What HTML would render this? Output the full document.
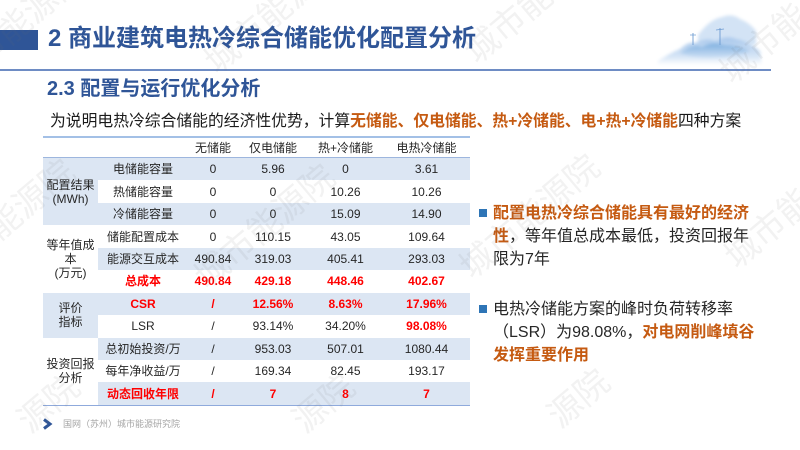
<!DOCTYPE html>
<html>
<head>
<meta charset="utf-8">
<style>
  html, body { margin:0; padding:0; width:800px; height:450px; overflow:hidden; background:#ffffff; }
  #page { width:800px; height:450px; position:relative; overflow:hidden; background:#ffffff;
         font-family:"Liberation Sans","Noto Sans CJK SC",sans-serif; color:#262626; }
  .abs { position:absolute; white-space:nowrap; }
  #bar { left:0; top:30px; width:38px; height:20px; background:#2F5597; }
  #title { left:48px; top:27px; font-size:24px; line-height:24px; font-weight:bold; color:#2F5597; }
  #hline { left:0; top:69px; width:771px; height:2px; background:#6E8CC4; }
  #sub { left:47px; top:79px; font-size:20px; line-height:20px; font-weight:bold; color:#2F5597; }
  #intro { left:50px; top:114px; font-size:15.8px; line-height:16px; color:#1a1a1a; }
  #intro b { color:#C55A11; }
  table { position:absolute; left:43px; top:136px; width:427px; border-collapse:separate; border-spacing:0;
          table-layout:fixed; font-size:12px; line-height:14px; }
  td { padding:0; text-align:center; vertical-align:middle; white-space:nowrap; }
  tr.h td { height:19px; border-top:2px solid #A3C0E6; border-bottom:1px solid #9DB6DE; }
  tr.r td { height:22.45px; }
  .s { background:#DCE6F3; }
  .red { color:#FF0000; font-weight:bold; }
  tr.last td { border-bottom:1.5px solid #8FAADC; }
  .bul { width:8px; height:8px; background:#2E75B6; }
  .bt { font-size:16px; line-height:23px; color:#262626; }
  .bt b { color:#C55A11; }
  #foot { left:63px; top:418px; font-size:9px; line-height:12px; color:#A6A6A6; }
</style>
</head>
<body>
<div id="page">

<!-- mountain illustration -->
<svg class="abs" style="left:650px;top:5px" width="120" height="65" viewBox="0 0 120 65">
  <defs>
    <filter id="bl" x="-20%" y="-20%" width="140%" height="140%"><feGaussianBlur stdDeviation="1.6"/></filter>
    <linearGradient id="g1" x1="0" y1="0" x2="0" y2="1">
      <stop offset="0" stop-color="#A9C8EC"/>
      <stop offset="0.7" stop-color="#D6E5F6"/>
      <stop offset="1" stop-color="#ffffff"/>
    </linearGradient>
    <linearGradient id="g2" x1="0" y1="0" x2="0" y2="1">
      <stop offset="0" stop-color="#7FB0E0"/>
      <stop offset="1" stop-color="#C9DDF3"/>
    </linearGradient>
  </defs>
  <path d="M48,30 Q60,14 72,12 Q82,8 90,14 Q100,18 106,26 L106,40 L48,40 Z" fill="#D3E3F5" filter="url(#bl)"/>
  <path d="M8,56 Q20,48 30,44 Q38,36 46,38 Q56,32 66,36 Q76,30 86,34 Q98,36 110,46 L112,60 L8,60 Z" fill="url(#g1)" filter="url(#bl)"/>
  <path d="M30,48 Q42,38 52,42 Q62,36 74,40 Q88,40 100,46 Q80,52 60,52 Q44,52 30,48 Z" fill="url(#g2)" filter="url(#bl)"/>
  <line x1="43" y1="28" x2="43" y2="40" stroke="#6C9BD2" stroke-width="0.9"/>
  <line x1="40" y1="30" x2="46" y2="30" stroke="#6C9BD2" stroke-width="0.7"/>
  <line x1="70" y1="23" x2="70" y2="40" stroke="#6C9BD2" stroke-width="0.9"/>
  <line x1="66" y1="25" x2="74" y2="24" stroke="#6C9BD2" stroke-width="0.7"/>
</svg>

<div id="bar" class="abs"></div>
<div id="title" class="abs">2 商业建筑电热冷综合储能优化配置分析</div>
<div id="hline" class="abs"></div>
<div id="sub" class="abs">2.3 配置与运行优化分析</div>
<div id="intro" class="abs">为说明电热冷综合储能的经济性优势，计算<b>无储能、仅电储能、热+冷储能、电+热+冷储能</b>四种方案</div>

<table>
  <colgroup>
    <col style="width:55px"><col style="width:90px"><col style="width:50px"><col style="width:70px"><col style="width:75px"><col style="width:87px">
  </colgroup>
  <tr class="h"><td></td><td></td><td>无储能</td><td>仅电储能</td><td>热+冷储能</td><td>电热冷储能</td></tr>
  <tr class="r s"><td rowspan="3" class="s">配置结果<br>(MWh)</td><td>电储能容量</td><td>0</td><td>5.96</td><td>0</td><td>3.61</td></tr>
  <tr class="r"><td>热储能容量</td><td>0</td><td>0</td><td>10.26</td><td>10.26</td></tr>
  <tr class="r s"><td>冷储能容量</td><td>0</td><td>0</td><td>15.09</td><td>14.90</td></tr>
  <tr class="r"><td rowspan="3">等年值成<br>本<br>(万元)</td><td>储能配置成本</td><td>0</td><td>110.15</td><td>43.05</td><td>109.64</td></tr>
  <tr class="r s"><td>能源交互成本</td><td>490.84</td><td>319.03</td><td>405.41</td><td>293.03</td></tr>
  <tr class="r"><td class="red">总成本</td><td class="red">490.84</td><td class="red">429.18</td><td class="red">448.46</td><td class="red">402.67</td></tr>
  <tr class="r s"><td rowspan="2" class="s">评价<br>指标</td><td class="red">CSR</td><td class="red">/</td><td class="red">12.56%</td><td class="red">8.63%</td><td class="red">17.96%</td></tr>
  <tr class="r"><td>LSR</td><td>/</td><td>93.14%</td><td>34.20%</td><td class="red">98.08%</td></tr>
  <tr class="r s"><td rowspan="3" style="background:#fff;border-bottom:1.5px solid #8FAADC">投资回报<br>分析</td><td>总初始投资/万</td><td>/</td><td>953.03</td><td>507.01</td><td>1080.44</td></tr>
  <tr class="r"><td>每年净收益/万</td><td>/</td><td>169.34</td><td>82.45</td><td>193.17</td></tr>
  <tr class="r s last"><td class="red">动态回收年限</td><td class="red">/</td><td class="red">7</td><td class="red">8</td><td class="red">7</td></tr>
</table>

<div class="abs bul" style="left:479px;top:209px"></div>
<div class="abs bt" style="left:493px;top:202px"><b>配置电热冷综合储能具有最好的经济</b><br><b>性</b>，等年值总成本最低，投资回报年<br>限为7年</div>

<div class="abs bul" style="left:479px;top:305px"></div>
<div class="abs bt" style="left:493px;top:298px">电热冷储能方案的峰时负荷转移率<br>（LSR）为98.08%，<b>对电网削峰填谷</b><br><b>发挥重要作用</b></div>

<svg class="abs" style="left:42px;top:418px" width="12" height="12" viewBox="0 0 12 12">
  <polyline points="2,1.5 8,6 2,10.5" fill="none" stroke="#2F5597" stroke-width="3"/>
</svg>
<div id="foot" class="abs">国网（苏州）城市能源研究院</div>

<!-- watermarks -->
<svg class="abs" style="left:0;top:0;pointer-events:none" width="800" height="450" viewBox="0 0 800 450">
  <g font-family="Liberation Sans, Noto Sans CJK SC, sans-serif" font-size="34" fill="rgba(110,110,110,0.09)" text-anchor="middle" dominant-baseline="central">
    <text x="15" y="27" transform="rotate(-40 15 27)">城市能源院</text>
    <text x="275" y="12" transform="rotate(-40 275 12)">城市能源院</text>
    <text x="535" y="2" transform="rotate(-40 535 2)">城市能源院</text>
    <text x="790" y="22" transform="rotate(-40 790 22)">城市能源院</text>
    <text x="5" y="222" transform="rotate(-40 5 222)">城市能源院</text>
    <text x="265" y="227" transform="rotate(-40 265 227)">城市能源院</text>
    <text x="530" y="217" transform="rotate(-40 530 217)">城市能源院</text>
    <text x="795" y="207" transform="rotate(-40 795 207)">城市能源院</text>
    <text x="49" y="404" transform="rotate(-40 49 404)">源院</text>
    <text x="324" y="404" transform="rotate(-40 324 404)">源院</text>
    <text x="579" y="399" transform="rotate(-40 579 399)">源院</text>
  </g>
</svg>

</div>
</body>
</html>
